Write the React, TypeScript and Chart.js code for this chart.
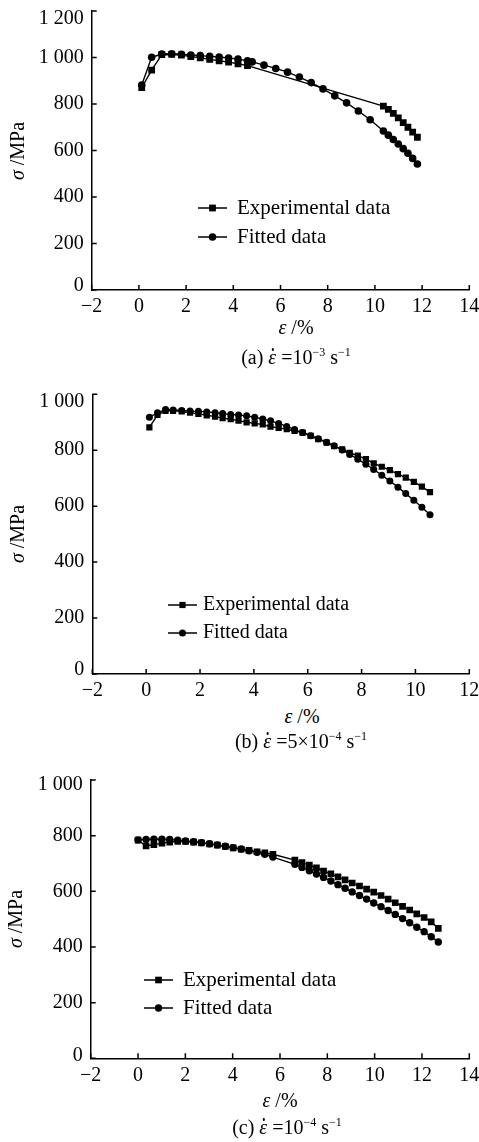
import React, { useEffect, useRef } from 'react';
import { Chart, registerables } from 'chart.js';
Chart.register(...registerables);

const FONT = '"Liberation Serif", "Times New Roman", serif';

// ---------- Panel (a): strain rate 10^-3 s^-1 ----------
const aExpX = [0.12, 0.54, 0.97, 1.39, 1.8, 2.2, 2.6, 3.0, 3.4, 3.8, 4.2, 4.6, 10.36, 10.57, 10.78, 10.99, 11.2, 11.4, 11.6, 11.8];
const aExpY = [870, 946, 1012, 1013, 1010, 1004, 999, 992, 986, 980, 973, 965, 791, 777, 760, 740, 720, 700, 679, 657];
const aFitX = [0.12, 0.54, 0.97, 1.39, 1.8, 2.2, 2.6, 3.0, 3.4, 3.8, 4.2, 4.6, 4.8, 5.3, 5.8, 6.3, 6.8, 7.3, 7.8, 8.3, 8.8, 9.3, 9.8, 10.36, 10.57, 10.78, 10.99, 11.2, 11.4, 11.6, 11.8];
const aFitY = [882, 1001, 1015, 1016, 1014, 1011, 1008, 1005, 1002, 998, 993, 986, 981, 967, 953, 937, 916, 892, 865, 835, 805, 770, 732, 684, 666, 647, 628, 608, 588, 566, 542];

// ---------- Panel (b): strain rate 5x10^-4 s^-1 ----------
const bX = [0.12, 0.42, 0.72, 1.0, 1.32, 1.63, 1.94, 2.25, 2.56, 2.84, 3.14, 3.43, 3.73, 4.03, 4.33, 4.62, 4.92, 5.22, 5.51, 5.81, 6.11, 6.39, 6.7, 6.98, 7.28, 7.56, 7.86, 8.16, 8.45, 8.75, 9.05, 9.35, 9.64, 9.94, 10.24, 10.54];
const bExpY = [882, 926, 941, 941, 939, 934, 930, 925, 920, 915, 911, 906, 900, 896, 892, 884, 880, 875, 869, 863, 851, 840, 827, 815, 803, 791, 781, 768, 753, 741, 729, 715, 702, 687, 670, 650];
const bFitY = [918, 934, 946, 944, 942, 940, 939, 937, 934, 931, 928, 926, 923, 918, 912, 905, 896, 885, 874, 863, 852, 841, 829, 816, 801, 785, 768, 750, 731, 711, 690, 668, 645, 621, 596, 569];

// ---------- Panel (c): strain rate 10^-4 s^-1 ----------
const cX = [0, 0.34, 0.67, 1.01, 1.34, 1.68, 2.01, 2.35, 2.68, 3.02, 3.35, 3.69, 4.02, 4.36, 4.69, 5.03, 5.36, 5.7,
  6.63, 6.93, 7.24, 7.54, 7.84, 8.15, 8.45, 8.75, 9.05, 9.36, 9.66, 9.96, 10.27, 10.57, 10.87, 11.18, 11.48, 11.78, 12.09, 12.39, 12.69];
const cExpY = [784, 763, 768, 773, 777, 779, 779, 777, 774, 770, 766, 761, 756, 751, 747, 742, 738, 733,
  712, 703, 694, 684, 673, 663, 652, 641, 630, 619, 608, 597, 585, 572, 559, 546, 533, 519, 506, 490, 467];
const cFitY = [785, 786, 787, 787, 786, 784, 781, 778, 775, 771, 767, 762, 757, 752, 746, 740, 733, 723,
  697, 686, 674, 662, 650, 637, 624, 611, 598, 585, 572, 558, 545, 531, 517, 502, 487, 471, 455, 437, 418];

const legendLabels = ['Experimental data', 'Fitted data'];

type PanelCfg = {
  top: number; height: number;
  left: number; right: number; areaTop: number; areaBottom: number;
  xMax: number; yMax: number;
  expX: number[]; expY: number[]; fitX: number[]; fitY: number[];
  rectR: number; circR: number;
  legend: { x0: number; x1: number; tx: number; y1: number; y2: number; size: number };
  topShift: number; bottomShift: number;
};

const panels: PanelCfg[] = [
  {
    top: 0, height: 320, left: 91.7, right: 469.3, areaTop: 11, areaBottom: 290,
    xMax: 14, yMax: 1200, expX: aExpX, expY: aExpY, fitX: aFitX, fitY: aFitY,
    rectR: 4.8, circR: 3.8,
    legend: { x0: 198, x1: 227, tx: 237, y1: 208, y2: 237, size: 21 },
    topShift: 7.5, bottomShift: 4,
  },
  {
    top: 370, height: 335, left: 92.3, right: 469.3, areaTop: 394.3, areaBottom: 674,
    xMax: 12, yMax: 1000, expX: bX, expY: bExpY, fitX: bX, fitY: bFitY,
    rectR: 4.4, circR: 3.5,
    legend: { x0: 168, x1: 197, tx: 203, y1: 605, y2: 633, size: 20 },
    topShift: 7, bottomShift: 4,
  },
  {
    top: 750, height: 340, left: 90.7, right: 469.3, areaTop: 780, areaBottom: 1058.3,
    xMax: 14, yMax: 1000, expX: cX, expY: cExpY, fitX: cX, fitY: cFitY,
    rectR: 4.7, circR: 3.7,
    legend: { x0: 144, x1: 173, tx: 183, y1: 980, y2: 1008, size: 21 },
    topShift: 5, bottomShift: 3,
  },
];

const fmtY = (v: number) => (v >= 1000 ? `${Math.floor(v / 1000)} ${String(v % 1000).padStart(3, '0')}` : String(v));
const fmtX = (v: number) => (v < 0 ? `\u2212${Math.abs(v)}` : String(v));

function Panel({ cfg }: { cfg: PanelCfg }) {
  const ref = useRef<HTMLCanvasElement>(null);
  useEffect(() => {
    const canvas = ref.current!;
    const xh = cfg.height - (cfg.areaBottom - cfg.top);
    const overlay = {
      id: 'overlay',
      afterDraw(chart: any) {
        const { ctx, chartArea: ca, scales } = chart;
        const xs = scales.x, ys = scales.y;
        ctx.save();
        ctx.strokeStyle = '#000';
        ctx.lineWidth = 1.5;
        ctx.beginPath();
        xs.ticks.forEach((t: any) => {
          const px = xs.getPixelForValue(t.value);
          ctx.moveTo(px, ca.bottom);
          ctx.lineTo(px, ca.bottom - 5);
        });
        ys.ticks.forEach((t: any) => {
          const py = ys.getPixelForValue(t.value);
          ctx.moveTo(ca.left, py);
          ctx.lineTo(ca.left + 5, py);
        });
        ctx.stroke();
        ctx.fillStyle = '#000';
        ctx.font = `20px ${FONT}`;
        ctx.textAlign = 'right';
        ctx.textBaseline = 'middle';
        ys.ticks.forEach((t: any) => {
          let py = ys.getPixelForValue(t.value);
          py = Math.max(py, ca.top + cfg.topShift);
          py = Math.min(py, ca.bottom - cfg.bottomShift);
          ctx.fillText(fmtY(t.value), ca.left - 8, py);
        });
        // legend
        const L = cfg.legend;
        const rows = [L.y1 - cfg.top, L.y2 - cfg.top];
        ctx.font = `${L.size}px ${FONT}`;
        ctx.textAlign = 'left';
        rows.forEach((ry, i) => {
          ctx.beginPath();
          ctx.lineWidth = 1.5;
          ctx.moveTo(L.x0, ry);
          ctx.lineTo(L.x1, ry);
          ctx.stroke();
          const mx = (L.x0 + L.x1) / 2;
          ctx.beginPath();
          if (i === 0) {
            const s = cfg.rectR * Math.SQRT1_2;
            ctx.rect(mx - s, ry - s, 2 * s, 2 * s);
          } else {
            ctx.arc(mx, ry, cfg.circR, 0, Math.PI * 2);
          }
          ctx.fill();
          ctx.fillText(legendLabels[i], L.tx, ry);
        });
        ctx.restore();
      },
    };
    const common = {
      borderColor: '#000', backgroundColor: '#000', pointBackgroundColor: '#000',
      pointBorderColor: '#000', borderWidth: 1.4, tension: 0, showLine: true, fill: false,
    };
    const gridOpt = { display: true, drawOnChartArea: false, drawTicks: false };
    const borderOpt = { display: true, color: '#000', width: 1.5 };
    const chart = new Chart(canvas, {
      type: 'line',
      data: {
        datasets: [
          { ...common, label: legendLabels[1], data: cfg.fitX.map((x, i) => ({ x, y: cfg.fitY[i] })), pointStyle: 'circle', pointRadius: cfg.circR, pointBorderWidth: 0 },
          { ...common, label: legendLabels[0], data: cfg.expX.map((x, i) => ({ x, y: cfg.expY[i] })), pointStyle: 'rect', pointRadius: cfg.rectR, pointBorderWidth: 0 },
        ],
      } as any,
      options: {
        responsive: false,
        animation: false,
        devicePixelRatio: 1,
        layout: { padding: { top: cfg.areaTop - cfg.top, right: 479 - cfg.right, left: 0, bottom: 0 } },
        plugins: { legend: { display: false }, tooltip: { enabled: false } },
        scales: {
          x: {
            type: 'linear', min: -2, max: cfg.xMax,
            ticks: { stepSize: 2, color: '#000', font: { family: FONT, size: 20 }, padding: 5, maxRotation: 0, callback: (v: any) => fmtX(Number(v)) },
            grid: gridOpt, border: borderOpt,
            afterFit: (s: any) => { s.height = xh; s.paddingLeft = 0; s.paddingRight = 0; },
          },
          y: {
            type: 'linear', min: 0, max: cfg.yMax,
            ticks: { stepSize: 200, display: false },
            grid: gridOpt, border: borderOpt,
            afterFit: (s: any) => { s.width = cfg.left; s.paddingTop = 0; s.paddingBottom = 0; },
          },
        },
      } as any,
      plugins: [overlay],
    });
    return () => chart.destroy();
  }, [cfg]);
  return <canvas ref={ref} width={479} height={cfg.height} style={{ position: 'absolute', left: 0, top: cfg.top }} />;
}

const Txt = ({ x, y, rotate, size = 20, children }: any) => (
  <div
    style={{
      position: 'absolute', left: x, top: y,
      transform: `translate(-50%, -50%)${rotate ? ' rotate(-90deg)' : ''}`,
      fontFamily: FONT, fontSize: size, whiteSpace: 'nowrap', lineHeight: 1, color: '#000',
    }}
  >
    {children}
  </div>
);

const Sup = ({ children }: any) => (
  <span style={{ fontSize: 12, position: 'relative', top: -8 }}>{children}</span>
);

const EpsDot = () => (
  <span style={{ position: 'relative', display: 'inline-block' }}>
    <i>ε</i>
    <span
      style={{
        position: 'absolute', left: '58%', top: 1, width: 2.6, height: 2.6,
        borderRadius: '50%', background: '#000', transform: 'translateX(-50%)',
      }}
    />
  </span>
);

export default function App() {
  return (
    <div style={{ position: 'absolute', left: 0, top: 0, width: 479, height: 1142, background: '#fff', overflow: 'hidden' }}>
      {panels.map((p, i) => <Panel key={i} cfg={p} />)}
      <Txt x={17} y={150.5} rotate><i>σ</i> /MPa</Txt>
      <Txt x={17} y={534} rotate><i>σ</i> /MPa</Txt>
      <Txt x={15} y={919} rotate><i>σ</i> /MPa</Txt>
      <Txt x={296} y={327}><i>ε</i> /%</Txt>
      <Txt x={302} y={716}><i>ε</i> /%</Txt>
      <Txt x={280} y={1100}><i>ε</i> /%</Txt>
      <Txt x={296} y={357}>(a) <EpsDot /> =10<Sup>−3</Sup> s<Sup>−1</Sup></Txt>
      <Txt x={301} y={741}>(b) <EpsDot /> =5×10<Sup>−4</Sup> s<Sup>−1</Sup></Txt>
      <Txt x={287} y={1127}>(c) <EpsDot /> =10<Sup>−4</Sup> s<Sup>−1</Sup></Txt>
    </div>
  );
}
